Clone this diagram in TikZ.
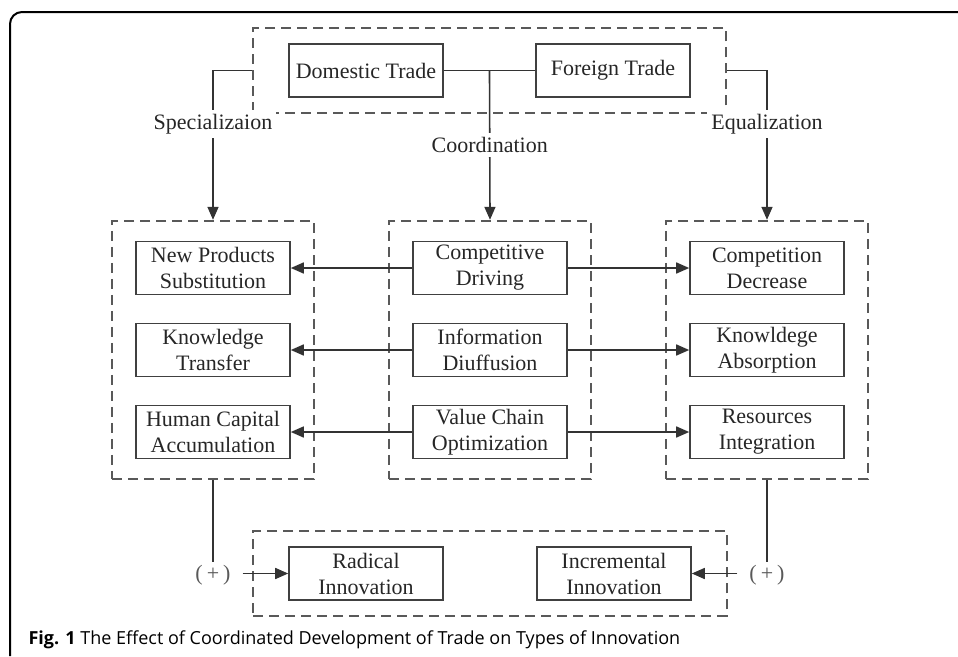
\documentclass[tikz,border=0pt]{standalone}
\usepackage{fontspec}
\setmainfont{Liberation Serif}
\newfontfamily\capfont{Open Sans}
\usetikzlibrary{positioning,fit,arrows.meta}

\newcommand{\diafont}{\fontsize{22}{26}\selectfont}

\tikzset{
  item/.style={draw=black!75, line width=1.6pt, minimum width=154pt, minimum height=53pt,
    inner sep=0pt, align=center, text=black!85, font=\diafont},
  group/.style={draw=black!65, line width=1.8pt, dash pattern=on 10pt off 6pt,
    inner xsep=23pt, inner ysep=20pt},
  link/.style={draw=black!80, line width=1.6pt},
  lbl/.style={fill=white, inner sep=4pt, text=black!85, font=\diafont},
  plus/.style={inner xsep=12pt, inner ysep=3pt, text=black!65, font=\diafont},
  frame/.style={line width=2pt, rounded corners=12pt}
}

\begin{document}
\begin{tikzpicture}[node distance=82pt and 277pt, on grid,
    >={Triangle[length=13pt,width=11pt]}]
  \useasboundingbox (0,0) rectangle (958pt,-656pt);
  \draw[frame] (958pt,-12pt) -- (10pt,-12pt) -- (10pt,-656pt);

  % middle column
  \node[item] (cd) at (490pt,-268pt) {Competitive\\Driving};
  \node[item] (id) [below=of cd] {Information\\Diuffusion};
  \node[item] (vc) [below=of id] {Value Chain\\Optimization};
  % left column
  \node[item] (np) [left=of cd] {New Products\\Substitution};
  \node[item] (kt) [left=of id] {Knowledge\\Transfer};
  \node[item] (hc) [left=of vc] {Human Capital\\Accumulation};
  % right column
  \node[item] (cp) [right=of cd] {Competition\\Decrease};
  \node[item] (ka) [right=of id] {Knowldege\\Absorption};
  \node[item] (ri) [right=of vc] {Resources\\Integration};
  % trade
  \node[item] (dt) [above left=197.5pt and 124pt of cd] {Domestic Trade};
  \node[item] (ft) [right=247pt of dt] {Foreign Trade};
  % innovation
  \node[item] (rad) [below left=141.5pt and 124pt of vc] {Radical\\Innovation};
  \node[item] (inc) [right=248pt of rad] {Incremental\\Innovation};

  % dashed groups
  \node[group, fit=(np)(hc)] (lg) {};
  \node[group, fit=(cd)(vc)] (mg) {};
  \node[group, fit=(cp)(ri)] (rg) {};
  \node[group, fit=(dt)(ft), inner xsep=35pt, inner ysep=15pt] (tg) {};
  \node[group, fit=(rad)(inc), inner xsep=35pt, inner ysep=15pt] (bg) {};

  % trade to the three effects
  \draw[link] (dt) -- coordinate[midway] (tj) (ft);
  \draw[link,->] (tj) -- node[lbl] {Coordination} (mg.north);
  \draw[link,->] (tg.west) -| node[lbl, pos=0.68] {Specializaion} (lg.north);
  \draw[link,->] (tg.east) -| node[lbl, pos=0.68] {Equalization} (rg.north);

  % rows
  \draw[link,->] (cd) -- (np);
  \draw[link,->] (id) -- (kt);
  \draw[link,->] (vc) -- (hc);
  \draw[link,->] (cd) -- (cp);
  \draw[link,->] (id) -- (ka);
  \draw[link,->] (vc) -- (ri);

  % to innovation
  \node[plus] (pl) [below=82pt of lg.south] {(\hspace{4pt}+\hspace{4pt})};
  \node[plus] (pr) [below=82pt of rg.south] {(\hspace{4pt}+\hspace{4pt})};
  \draw[link] (lg.south) -- (pl.north);
  \draw[link,->] (pl.east |- rad.west) -- (rad.west);
  \draw[link] (rg.south) -- (pr.north);
  \draw[link,->] (pr.west |- inc.east) -- (inc.east);

  \node[anchor=west, font=\capfont\fontsize{18}{22}\selectfont] (cap) at (25pt,-640pt)
    {\textbf{Fig. 1} The Effect of Coordinated Development of Trade on Types of Innovation};
\end{tikzpicture}
\end{document}
